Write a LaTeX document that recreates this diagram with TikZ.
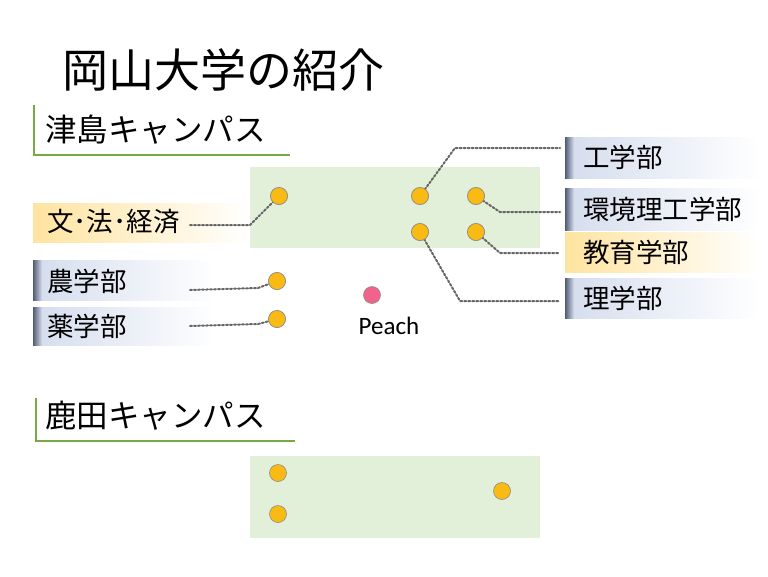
\documentclass[tikz,border=0pt]{standalone}
\usepackage{fontspec}
\setmainfont{Noto Sans CJK JP}
\newfontfamily\lat{Carlito}
\begin{document}
\begin{tikzpicture}[x=1pt,y=-1pt,
  dot/.style={circle,draw=black!45,line width=0.6pt,fill={rgb,255:red,250;green,186;blue,20},minimum size=17pt,inner sep=0pt},
  pdot/.style={dot,fill={rgb,255:red,240;green,100;blue,140}},
  conn/.style={draw=black!60,line width=2pt,dotted,line cap=round},
  lbl/.style={anchor=west,font=\fontsize{26.5}{30}\selectfont,inner sep=0pt},
  campus/.style={fill={rgb,255:red,226;green,239;blue,217},draw=none},
  hdr/.style={anchor=west,font=\fontsize{31.5}{35}\selectfont,inner sep=0pt},
  gline/.style={draw={rgb,255:red,118;green,170;blue,70},line width=2.5pt}]
\useasboundingbox (0,0) rectangle (768,576);
\fill[white] (0,0) rectangle (768,576);
\node[anchor=west,inner sep=0pt,font=\fontsize{46}{50}\selectfont] (title) at (62,70) {岡山大学の紹介};
% headers
\draw[gline] (34,105) -- (34,155) -- (290,155);
\node[hdr] (h1) at (45,130) {津島キャンパス};
\draw[gline] (36,398) -- (36,441) -- (295,441);
\node[hdr] (h2) at (45,416) {鹿田キャンパス};
% campus areas
\path[campus] (250,167) rectangle (540,248);
\path[campus] (250,456) rectangle (540,538);
% label boxes
\newcommand{\bluebox}[4]{%
  \shade[left color={rgb,255:red,214;green,222;blue,238},right color=white] (#1+8,#2) rectangle (#3,#4);
  \shade[left color={rgb,255:red,80;green,92;blue,115},right color={rgb,255:red,214;green,222;blue,238}] (#1,#2) rectangle (#1+9,#4);}
\newcommand{\yelbox}[4]{%
  \shade[left color={rgb,255:red,255;green,228;blue,160},right color=white] (#1,#2) rectangle (#3,#4);}
\yelbox{33}{203}{250}{242}
\bluebox{33}{260}{215}{300}
\bluebox{33}{307}{215}{345}
\bluebox{565}{137}{760}{178}
\bluebox{565}{188}{760}{230}
\yelbox{565}{232}{760}{272}
\bluebox{565}{278}{760}{318}
\node[lbl] (bun) at (47,222) {文･法･経済};
\node[lbl] (nou) at (47,281) {農学部};
\node[lbl] (yak) at (47,326) {薬学部};
\node[lbl] (kou) at (583,157) {工学部};
\node[lbl] (kan) at (583,209) {環境理工学部};
\node[lbl] (kyo) at (583,252) {教育学部};
\node[lbl] (ri) at (583,298) {理学部};
% dots
\node[dot] (d1) at (279,196) {};
\node[dot] (d2) at (420,196) {};
\node[dot] (d3) at (476,196) {};
\node[dot] (d4) at (420,232) {};
\node[dot] (d5) at (476,232) {};
\node[dot] (d6) at (277,281) {};
\node[dot] (d7) at (277,319) {};
\node[pdot] (pe) at (372,295) {};
\node[font=\lat\fontsize{25}{28}\selectfont,inner sep=0pt] (pel) at (389,326) {Peach};
\node[dot] (k1) at (278,473) {};
\node[dot] (k2) at (278,514) {};
\node[dot] (k3) at (502,491) {};
% connectors
\coordinate (c1) at (190,225); \coordinate (c1b) at (250,225);
\draw[conn] (c1) -- (c1b) -- (d1.center);
\coordinate (c2) at (190,290); \coordinate (c2b) at (258,288);
\draw[conn] (c2) -- (c2b) -- (d6.center);
\coordinate (c3) at (190,326); \coordinate (c3b) at (258,324);
\draw[conn] (c3) -- (c3b) -- (d7.center);
\coordinate (e1) at (455,148); \coordinate (e1b) at (560,148);
\draw[conn] (d2.center) -- (e1) -- (e1b);
\coordinate (e2) at (500,212); \coordinate (e2b) at (560,212);
\draw[conn] (d3.center) -- (e2) -- (e2b);
\coordinate (e3) at (500,253); \coordinate (e3b) at (560,253);
\draw[conn] (d5.center) -- (e3) -- (e3b);
\coordinate (e4) at (460,301); \coordinate (e4b) at (560,301);
\draw[conn] (d4.center) -- (e4) -- (e4b);
\foreach \n in {d1,d2,d3,d4,d5,d6,d7} \node[dot] at (\n) {};
\end{tikzpicture}
\end{document}
